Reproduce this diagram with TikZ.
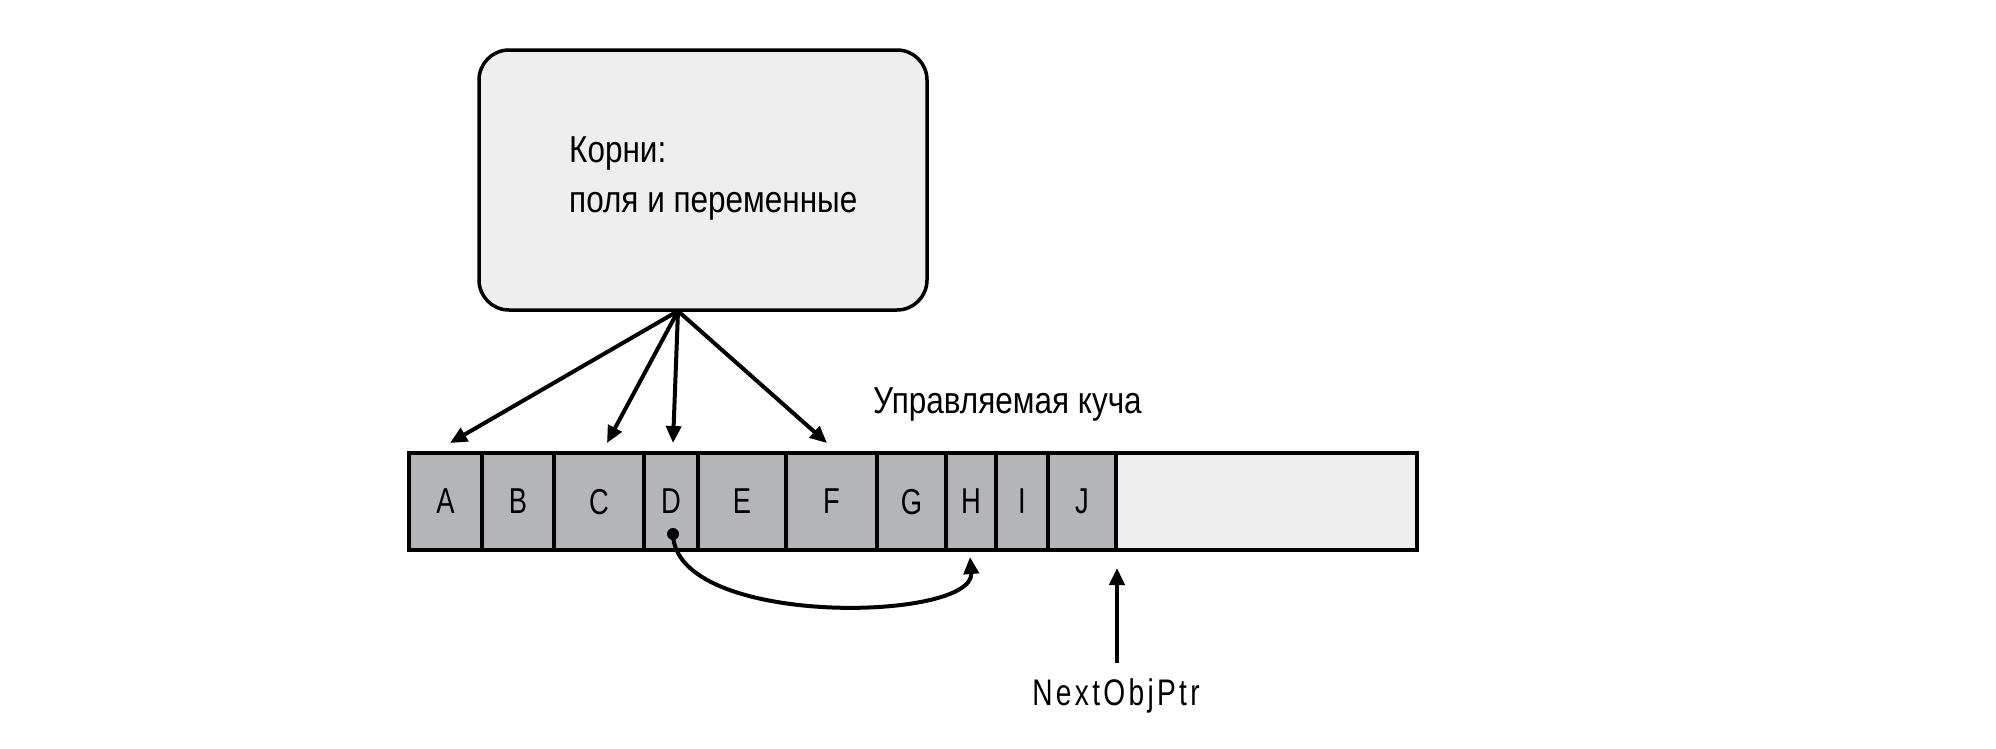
\documentclass[tikz,border=0pt]{standalone}
\usepackage{fontspec}
\setmainfont[FakeStretch=0.84]{Liberation Sans}
\newfontfamily\cellfont[FakeStretch=0.76]{Liberation Sans}
\usetikzlibrary{arrows.meta,calc}
\definecolor{boxfill}{HTML}{EEEEEE}
\definecolor{cellfill}{HTML}{B4B5B7}
\begin{document}
\begin{tikzpicture}[x=1pt,y=-1pt,
  cellbox/.style={draw, line width=3.5pt, fill=cellfill, inner sep=0pt, minimum height=97pt, text depth=0pt, font=\cellfont\fontsize{36}{40}\selectfont},
  freebox/.style={cellbox, fill=boxfill},
  ptr/.style={line width=4pt, -{Triangle[length=17pt,width=15pt]}},
  lbl/.style={font=\fontsize{37.5}{50}\selectfont, inner sep=0pt}
]
\useasboundingbox (0,0) rectangle (1996,748);
\fill[white] (0,0) rectangle (1996,748);

% roots box
\node[draw, line width=3.5pt, fill=boxfill, rounded corners=30pt,
      minimum width=448pt, minimum height=260pt, inner sep=0pt] (roots) at (703,180) {};
\node[lbl, anchor=base west] (roots1) at (569,162) {Корни:};
\node[lbl, anchor=base west] (roots2) at (569,212) {поля и переменные};

% heap label
\node[lbl, anchor=base west] (heaplbl) at (873,413) {Управляемая куча};

% heap cells
\node[cellbox, minimum width=73pt] (A) at (445.5,501.5) {A};
\node[cellbox, minimum width=72pt] (B) at (518,501.5) {B};
\node[cellbox, minimum width=90pt] (C) at (599,501.5) {C};
\node[cellbox, minimum width=54pt] (D) at (671,501.5) {D};
\node[cellbox, minimum width=88pt] (E) at (742,501.5) {E};
\node[cellbox, minimum width=91pt] (F) at (831.5,501.5) {F};
\node[cellbox, minimum width=69pt] (G) at (911.5,501.5) {G};
\node[cellbox, minimum width=50pt] (H) at (971,501.5) {H};
\node[cellbox, minimum width=52pt] (I) at (1022,501.5) {I};
\node[cellbox, minimum width=68pt] (J) at (1082,501.5) {J};
\node[freebox, minimum width=301pt] (free) at (1266.5,501.5) {};

% root references
\coordinate (src) at (678,311);
\coordinate (tA) at (450,443);
\coordinate (tC) at (607,443);
\coordinate (tD) at (673,443);
\coordinate (tF) at (827,443);
\draw[ptr] (src) -- (tA);
\draw[ptr] (src) -- (tC);
\draw[ptr] (src) -- (tD);
\draw[ptr] (src) -- (tF);

% D -> H reference
\coordinate (dD) at (673,534);
\coordinate (tH) at (970,557);
\draw[ptr] (dD) .. controls (675,628) and (975,622) .. (tH);
\fill (dD) circle (6pt);

% NextObjPtr
\node[inner sep=0pt, anchor=base, font=\cellfont\fontsize{37}{40}\selectfont\addfontfeatures{LetterSpace=9}] (nop) at (1116,705) {NextObjPtr};
\coordinate (nopstart) at (1117,663);
\coordinate (tNext) at (1117,568);
\draw[ptr] (nopstart) -- (tNext);
\end{tikzpicture}
\end{document}
